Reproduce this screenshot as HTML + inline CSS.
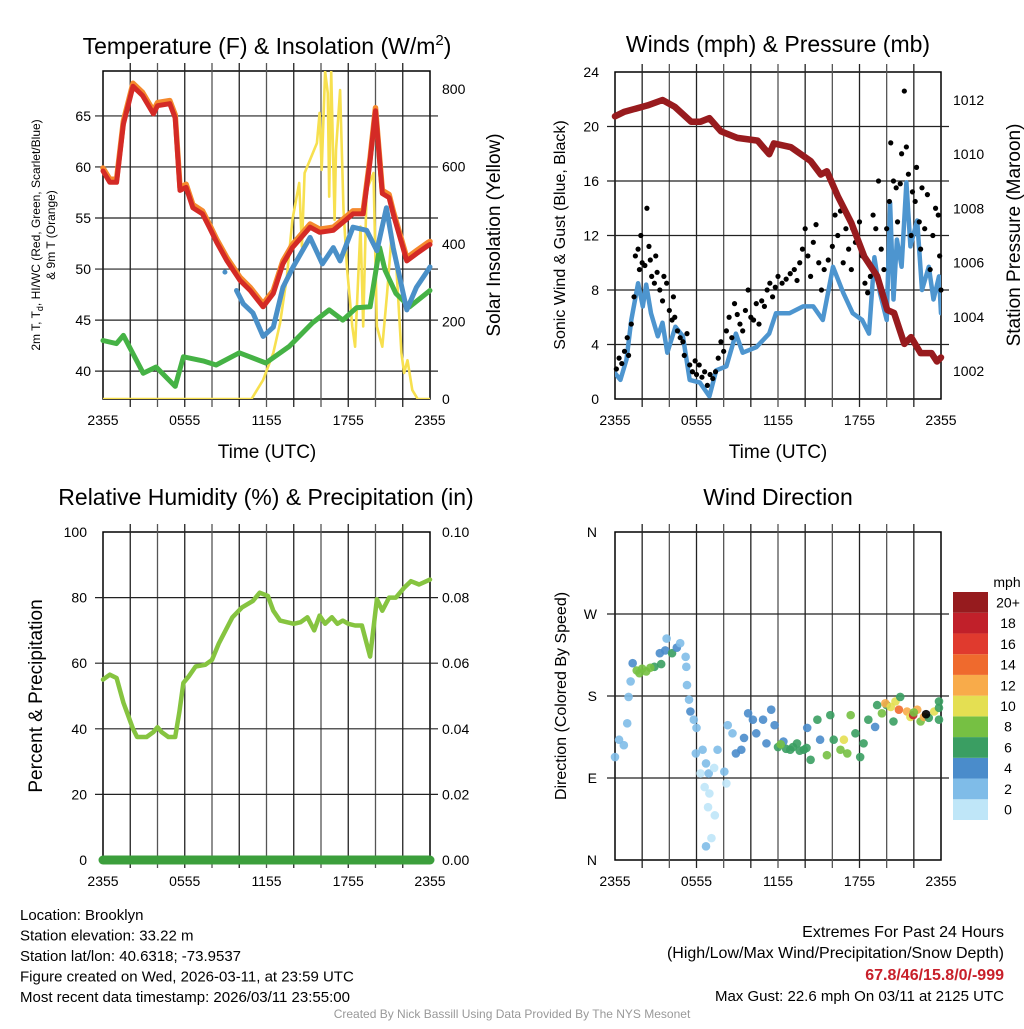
<!DOCTYPE html>
<html><head><meta charset="utf-8"><style>
body{margin:0;background:#fff;width:1024px;height:1024px;overflow:hidden}
svg{font-family:"Liberation Sans",sans-serif}
</style></head><body>
<svg id="s" width="1024" height="1024" viewBox="0 0 1024 1024"></svg>
<script>
// ---------- DATA ----------
const xTickLabels=["2355","0555","1155","1755","2355"];
const tempHr=[0,0.5,1.0,1.5,2.2,2.9,3.7,4.0,4.9,5.3,5.65,6.1,6.6,7.3,7.8,8.35,9.1,10.05,10.8,11.75,12.5,13.2,13.9,15.2,15.9,16.9,18.35,19.1,19.6,20.0,20.5,21.0,21.3,22.3,23.0,23.85,24];
const tempT=[59.6,58.5,58.5,64.2,67.9,67,65.2,66,66.2,64.8,57.7,58,56,55.4,54.1,52.6,50.8,48.9,47.9,46.3,47.6,50.5,52.1,54.1,53.6,53.8,55.4,55.4,60.6,65.5,57.4,57,55.4,50.8,51.5,52.3,52.4];
const hiHr=[9.8,10.3,11,11.75,12.5,13.2,13.95,15.2,16.1,16.9,17.4,18.35,19.35,20.1,20.8,21.3,22.3,23.0,23.85,24];
const hiVal=[47.9,46.6,45.7,43.4,44.3,48.2,50.2,53.1,50.5,52.1,50.8,54.1,53.8,51.8,56.0,52.1,46.0,48.2,49.9,50.2];
const tdHr=[0,0.98,1.5,2.95,3.9,5.3,5.9,7.35,8.3,10,11.95,13.65,15.35,16.6,17.6,18.6,19.6,20.3,20.7,21.5,22.5,24];
const tdVal=[43.0,42.7,43.5,39.8,40.4,38.5,41.4,41.0,40.6,41.8,40.8,42.4,44.7,46.0,45.0,46.2,46.3,52.1,49.9,47.6,46.3,47.9];
const solHr=[0,10.9,11.75,12.5,13,13.5,13.9,14.4,14.6,14.8,15.7,15.9,16.05,16.3,16.5,16.6,16.75,17,17.1,17.4,17.65,17.9,18.3,18.5,18.9,19.1,19.35,19.85,20.1,20.5,20.85,21.2,21.5,21.9,22.1,22.35,22.7,23.1,24];
const solVal=[0,0,49,119,196,316,462,557,393,583,660,738,591,845,789,522,845,462,642,797,488,341,187,135,445,187,539,583,187,135,273,428,359,119,67,100,23,0,0];
const presHr=[0,0.7,2.4,3.5,4.4,5.6,6.3,6.95,7.8,9.0,10.5,11.35,11.7,12.95,14.4,15.15,15.6,16.4,17.4,18.35,19.3,20.05,20.55,21.3,21.8,22.5,23.3,23.7,24];
const presVal=[1011.4,1011.57,1011.8,1012.0,1011.75,1011.2,1011.2,1011.33,1010.84,1010.6,1010.5,1010.0,1010.4,1010.26,1009.75,1009.25,1009.37,1008.45,1007.46,1006.22,1005.5,1004.25,1004.14,1003.0,1003.25,1002.66,1002.66,1002.35,1002.5];
const windHr=[0,0.4,0.85,1.2,1.7,2.05,2.3,2.65,3.15,3.5,3.85,4.45,5.0,5.5,6.25,6.95,7.45,8.2,8.9,9.4,10.4,11.35,11.85,12.85,13.85,14.6,15.3,16.05,16.8,17.5,18.2,18.7,19.1,19.5,20.0,20.25,20.5,20.75,21.1,21.45,21.75,22.25,22.6,23.1,23.45,23.85,24];
const windVal=[1.9,1.4,2.9,5.8,8.5,6.8,8.4,6.3,4.6,5.6,3.4,5.3,4.6,1.4,1.2,0.2,2.1,2.4,4.8,3.4,3.8,4.8,6.3,6.3,6.8,6.8,5.8,9.7,7.8,6.3,5.8,4.8,10.4,7.8,5.8,14.4,7.3,11.7,9.7,15.9,11.2,13.1,8.0,9.7,7.3,9.0,6.3];
const gustHr=[0.1,0.3,0.5,0.7,0.9,1.0,1.2,1.4,1.5,1.7,1.8,1.9,2.0,2.2,2.35,2.5,2.6,2.7,2.9,3.0,3.1,3.3,3.5,3.6,3.8,4.0,4.2,4.3,4.4,4.6,4.8,5.0,5.1,5.3,5.5,5.7,5.9,6.0,6.2,6.4,6.6,6.8,7.0,7.2,7.4,7.6,7.8,8.0,8.2,8.4,8.6,8.8,9.0,9.2,9.4,9.6,9.8,10.0,10.2,10.4,10.6,10.8,11.0,11.2,11.4,11.6,11.8,12.0,12.3,12.6,12.9,13.2,13.4,13.6,13.8,14.0,14.2,14.4,14.6,14.8,15.0,15.2,15.4,15.7,16.0,16.2,16.4,16.6,16.8,17.0,17.2,17.4,17.5,17.7,18.0,18.2,18.4,18.6,18.8,19.0,19.2,19.4,19.6,19.8,20.0,20.2,20.3,20.5,20.7,20.8,21.0,21.1,21.3,21.45,21.6,21.8,21.9,22.1,22.2,22.4,22.5,22.6,22.8,23.0,23.2,23.4,23.6,23.8,23.9,24.0];
const gustVal=[2.2,3.0,2.6,3.5,4.5,3.2,5.5,7.5,10.5,11,9.5,12,10,9.8,14,11.2,10.2,9.0,8.5,10.5,9.3,8.0,7.2,9.0,8.5,6.5,5.8,7.5,6.0,5.0,4.5,4.2,3.2,4.8,2.5,2.0,2.8,1.8,2.5,1.6,2.0,1.0,1.8,1.5,2.0,3.0,4.2,3.5,5.0,6.0,4.5,7.0,6.2,5.5,5.0,6.5,8.0,6.0,5.8,7.0,5.5,7.2,6.8,8.0,8.5,7.5,8.2,9.0,8.5,8.8,9.2,9.5,8.7,10.0,11.0,12.5,10.5,9.0,11.5,12.8,10.0,8.0,9.5,10.2,11.2,13.5,12.0,13.8,10.0,12.5,11.0,9.5,12.5,11.5,13.0,10.5,8.5,7.8,9.0,13.5,12.5,16.0,11.0,9.5,12.5,14.5,18.8,16.0,15.5,13.0,15.8,18.0,22.6,18.5,16.5,12.0,15.2,14.5,17.0,13.0,11.0,15.5,12.5,15.0,9.5,12.0,14.0,13.5,10.5,8.0];
const rhHr=[0,0.5,1.0,1.5,2.2,2.5,3.2,3.7,4.0,4.3,4.8,5.3,5.6,5.9,6.3,6.8,7.5,8.0,8.5,9.0,9.5,10.2,11.0,11.5,12.1,12.5,13.0,13.5,14.0,14.5,15.0,15.5,15.9,16.3,16.8,17.2,17.6,18.0,18.5,19.0,19.6,20.1,20.5,21.0,21.5,22.1,22.6,23.2,24];
const rhVal=[55,56.5,55.5,48,40,37.5,37.5,39,40.5,39,37.5,37.5,45,54,56,59,59.5,61,66,70,74,77,79,81.5,80.5,76,73,72.5,72,72.5,74,70,74.5,72,74,72,73,72,71.5,71.5,62,79.5,76,80,80,83,85,84,85.5];
const precipHr=[0,24];
const precipVal=[0,0];
const dirHr=[0,0.3,0.65,0.9,1.0,1.15,1.3,1.8,2.3,2.9,3.3,3.7,3.8,4.2,4.55,4.8,5.2,5.25,5.3,5.45,5.55,5.8,6.0,5.95,6.45,6.7,6.3,6.9,6.6,6.95,6.85,7.35,7.1,6.7,7.3,8.05,8.2,7.55,8.3,8.65,8.9,9.3,9.5,9.8,10.15,10.4,10.9,11.15,11.5,11.75,12.0,12.4,12.9,13.4,13.9,14.4,14.15,14.9,15.1,15.6,15.85,16.1,16.6,16.85,17.1,17.35,17.7,18.05,18.3,18.65,19.15,19.3,19.65,20.0,20.5,20.65,20.9,21.0,21.5,21.75,21.95,22.25,22.5,22.75,23.1,23.5,23.85,23.9,24,1.6,2.0,2.6,3.4,12.6,13.1,13.6,14.1,12.2,19.9,20.3,22.0,22.9];
const dirDeg=[113,132,126,150,179,196,216,205,207,212,227,230,243,227,233,238,223,212,192,176,163,154,145,117,121,106,95,95,80,73,58,49,24,15,101,97,84,121,148,139,117,121,134,161,154,139,154,128,165,148,124,130,121,128,121,110,145,154,132,115,159,132,121,132,117,159,139,113,128,154,146,170,161,170,152,174,165,179,163,157,159,165,152,157,156,163,167,174,154,208,210,211,215,122,124,120,123,127,172,168,162,160];
const dirSpd=[2,2,2,1,2,2,4,7,8,6,4,4,2,6,4,2,2,2,2,2,4,2,2,1,2,1,0,1,0,0,0,0,0,2,0,1,0,2,2,2,3,4,3,4,4,4,4,4,3,4,6,4,6,6,6,6,4,6,4,8,6,6,8,10,8,8,6,6,6,6,4,6,8,6,6,10,14,6,12,10,18,12,8,12,6,10,6,6,6,8,8,7,6,6,6,6,6,8,12,10,8];
const cbLabels=["0","2","4","6","8","10","12","14","16","18","20+"];
const cbColors=["#bfe6f8","#7fbce8","#4a8ccb","#3a9e62","#76c043","#e4df52","#f8ab4a","#ef6a2d","#e03a2e","#c1202a","#961b1e"];
// ---------- DRAW ----------
const S=document.getElementById('s');const NS="http://www.w3.org/2000/svg";
function el(t,a,txt){const e=document.createElementNS(NS,t);for(const k in a)e.setAttribute(k,a[k]);if(txt!=null)e.textContent=txt;S.appendChild(e);return e;}
function txt(x,y,s,size,anchor,extra){const a={x:x,y:y,'font-size':size,'text-anchor':anchor||'middle',fill:'#000'};if(extra)for(const k in extra)a[k]=extra[k];return el('text',a,s);}
const P=[{x0:103,x1:430,y0:71,y1:399},{x0:615,x1:941,y0:72,y1:399},{x0:103,x1:430,y0:532,y1:860},{x0:615,x1:941,y0:532,y1:860}];
function xs(p,h){return p.x0+(p.x1-p.x0)*h/24;}
function ys(p,v,lo,hi){return p.y1-(p.y1-p.y0)*(v-lo)/(hi-lo);}
function panel(p,hTicks,name){
 const g=el('rect',{x:p.x0,y:p.y0,width:p.x1-p.x0,height:p.y1-p.y0,fill:'none',stroke:'#000','stroke-width':1.5});
 
 for(let i=1;i<12;i++){const x=xs(p,i*2);const l=el('line',{x1:x,x2:x,y1:p.y0-8,y2:p.y1+8,stroke:i%2?'#222':'#555','stroke-width':1.3});}
 hTicks.forEach(y=>{const l=el('line',{x1:p.x0-8,x2:p.x1+8,y1:y,y2:y,stroke:'#222','stroke-width':1.2});});
 xTickLabels.forEach((s,i)=>{const t=txt(xs(p,i*6),p.y1+26,s,14);});
}
function line(p,hr,vals,lo,hi,color,w,name,op){let d='';hr.forEach((h,i)=>{d+=(i?'L':'M')+xs(p,h).toFixed(1)+','+ys(p,vals[i],lo,hi).toFixed(1);});
 const e=el('path',{d:d,fill:'none',stroke:color,'stroke-width':w,'stroke-linejoin':'round','stroke-linecap':'round','opacity':op||1});return e;}
// clip paths
const defs=el('defs',{});
P.forEach((p,i)=>{const c=document.createElementNS(NS,'clipPath');c.setAttribute('id','c'+i);const r=document.createElementNS(NS,'rect');r.setAttribute('x',p.x0);r.setAttribute('y',p.y0);r.setAttribute('width',p.x1-p.x0);r.setAttribute('height',p.y1-p.y0);c.appendChild(r);defs.appendChild(c);});
// Panel 1
const p1=P[0];const tLo=37.27,tHi=69.4;
panel(p1,[40,45,50,55,60,65].map(v=>ys(p1,v,tLo,tHi)),'temp-panel');
[40,45,50,55,60,65].forEach(v=>{const t=txt(p1.x0-12,ys(p1,v,tLo,tHi)+5,String(v),14,'end');});
[0,200,400,600,800].forEach(v=>{const y=ys(p1,v,0,846);const t=txt(p1.x1+12,y+5,String(v),14,'start');});
let e;
e=line(p1,solHr,solVal,0,846,'#f7e04f',2.6,'solar-insolation-line');e.setAttribute('clip-path','url(#c0)');
e=line(p1,tdHr,tdVal,tLo,tHi,'#45b245',5,'dewpoint-line');
e=line(p1,tempHr,tempT.map(v=>v+0.3),tLo,tHi,'#f58a2e',5.5,'9m-temp-line');
e=line(p1,tempHr,tempT,tLo,tHi,'#d42a26',5,'2m-temp-line');
e=line(p1,hiHr,hiVal,tLo,tHi,'#4a90c8',5,'wind-chill-line');
e=el('circle',{cx:xs(p1,8.95),cy:ys(p1,49.7,tLo,tHi),r:2.5,fill:'#4a90c8'});
txt(267,54,'',24);
e=el('text',{x:267,y:54,'font-size':23,'text-anchor':'middle'});e.innerHTML='Temperature (F) &amp; Insolation (W/m<tspan dy="-9" font-size="15">2</tspan><tspan dy="9">)</tspan>';
e=txt(267,458,'Time (UTC)',19);
e=el('text',{x:0,y:0,'font-size':12,'text-anchor':'middle',transform:'translate(40,235) rotate(-90)'});e.innerHTML='2m T, T<tspan dy="3" font-size="9">d</tspan><tspan dy="-3">, HI/WC (Red, Green, Scarlet/Blue)</tspan>';
e=txt(0,0,'& 9m T (Orange)',12,'middle',{transform:'translate(55,235) rotate(-90)'});
e=txt(0,0,'Solar Insolation (Yellow)',19,'middle',{transform:'translate(500,235) rotate(-90)'});
// Panel 2
const p2=P[1];
panel(p2,[4,8,12,16,20].map(v=>ys(p2,v,0,24)),'wind-panel');
[0,4,8,12,16,20,24].forEach(v=>{const t=txt(p2.x0-16,ys(p2,v,0,24)+5,String(v),14,'end');});
const pLo=1002-(399-371)/27.1,pHi=pLo+327/27.1;
[1002,1004,1006,1008,1010,1012].forEach(v=>{const t=txt(p2.x1+12,ys(p2,v,pLo,pHi)+5,String(v),14,'start');});
line(p2,windHr,windVal,0,24,'#4d95cf',4.5,'sustained-wind-line').setAttribute('clip-path','url(#c1)');
gustHr.forEach((h,i)=>{const c=el('circle',{cx:xs(p2,h),cy:ys(p2,gustVal[i],0,24),r:2.6,fill:'#000'});});
line(p2,presHr,presVal,pLo,pHi,'#981b1e',6.5,'pressure-line');
e=txt(778,52,'Winds (mph) & Pressure (mb)',23);
e=txt(778,458,'Time (UTC)',19);
e=txt(0,0,'Sonic Wind & Gust (Blue, Black)',16,'middle',{transform:'translate(565,235) rotate(-90)'});
e=txt(0,0,'Station Pressure (Maroon)',19,'middle',{transform:'translate(1020,235) rotate(-90)'});
// Panel 3
const p3=P[2];
panel(p3,[20,40,60,80].map(v=>ys(p3,v,0,100)),'rh-panel');
[0,20,40,60,80,100].forEach(v=>{const t=txt(p3.x0-16,ys(p3,v,0,100)+5,String(v),14,'end');});
["0.00","0.02","0.04","0.06","0.08","0.10"].forEach((s,i)=>{const t=txt(p3.x1+12,ys(p3,i*20,0,100)+5,s,14,'start');});
line(p3,rhHr,rhVal,0,100,'#86c440',4.5,'rh-line');
line(p3,precipHr,precipVal,0,0.1,'#3c9f3c',9,'precip-line');
e=txt(266,505,'Relative Humidity (%) & Precipitation (in)',23);
e=txt(0,0,'Percent & Precipitation',19,'middle',{transform:'translate(42,696) rotate(-90)'});
// Panel 4
const p4=P[3];
panel(p4,[90,180,270].map(v=>ys(p4,v,0,360)),'dir-panel');
["N","E","S","W","N"].forEach((s,i)=>{const t=txt(p4.x0-18,ys(p4,i*90,0,360)+5,s,14,'end');});
dirHr.forEach((h,i)=>{const k=Math.min(10,Math.round(dirSpd[i]/2));const c=el('circle',{cx:Math.min(xs(p4,h),p4.x1-2),cy:ys(p4,dirDeg[i],0,360),r:4.3,fill:cbColors[k],opacity:0.9});});
e=txt(778,505,'Wind Direction',23);
e=txt(0,0,'Direction (Colored By Speed)',16,'middle',{transform:'translate(566,696) rotate(-90)'});
// colorbar
const cbTop=592,cbBot=820,cbH=(cbBot-cbTop)/11;
cbColors.forEach((c,i)=>{const r=el('rect',{x:953,y:cbBot-(i+1)*cbH,width:35,height:cbH,fill:c});
 const t=txt(1008,cbBot-(i+0.5)*cbH+5,cbLabels[i],14);});
e=txt(1007,587,'mph',14);
// footer text
["Location: Brooklyn","Station elevation: 33.22 m","Station lat/lon: 40.6318; -73.9537","Figure created on Wed, 2026-03-11, at 23:59 UTC","Most recent data timestamp: 2026/03/11 23:55:00"].forEach((s,i)=>{const t=txt(20,920+i*20.5,s,15,'start');});
e=txt(1004,937,'Extremes For Past 24 Hours',16,'end');
e=txt(1004,958,'(High/Low/Max Wind/Precipitation/Snow Depth)',16,'end');
e=txt(1004,980,'67.8/46/15.8/0/-999',16,'end',{fill:'#c8202a','font-weight':'bold'});
e=txt(1004,1001,'Max Gust: 22.6 mph On 03/11 at 2125 UTC',15,'end');
e=txt(512,1018,'Created By Nick Bassill Using Data Provided By The NYS Mesonet',12,'middle',{fill:'#999'});
</script>
</body></html>
